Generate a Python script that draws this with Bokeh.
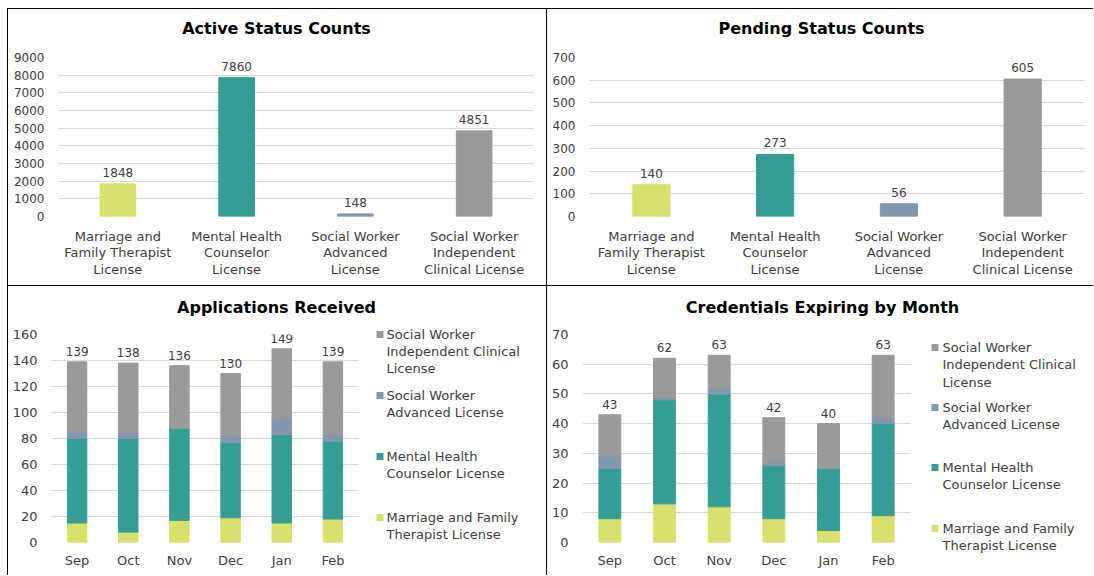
from bokeh.plotting import figure
from bokeh.layouts import column, row
from bokeh.models import (ColumnDataSource, FactorRange, Range1d, SingleIntervalTicker,
                          Spacer)
from bokeh.core.properties import value
from bokeh.embed import file_html
from bokeh.resources import INLINE

# ---------------- data ----------------
license_types = ["Marriage and\nFamily Therapist\nLicense",
                 "Mental Health\nCounselor\nLicense",
                 "Social Worker\nAdvanced\nLicense",
                 "Social Worker\nIndependent\nClinical License"]
active_counts = [1848, 7860, 148, 4851]
pending_counts = [140, 273, 56, 605]

months = ["Sep", "Oct", "Nov", "Dec", "Jan", "Feb"]
apps_mft = [15, 8, 17, 19, 15, 18]
apps_mhc = [65, 72, 71, 58, 68, 60]
apps_swa = [5, 5, 0, 5, 12, 5]
apps_swi = [54, 53, 48, 48, 54, 56]

exp_mft = [8, 13, 12, 8, 4, 9]
exp_mhc = [17, 35, 38, 18, 21, 31]
exp_swa = [4, 1, 2, 1, 0, 2]
exp_swi = [14, 13, 11, 15, 15, 21]

series_keys = ["mft", "mhc", "swa", "swi"]
series_colors = ["#d7e06b", "#359e94", "#8497b0", "#999999"]
# legend entries, top to bottom (reverse of stacking order)
legend_lines = [["Social Worker", "Independent Clinical", "License"],
                ["Social Worker", "Advanced License"],
                ["Mental Health", "Counselor License"],
                ["Marriage and Family", "Therapist License"]]

FONT = "DejaVu Sans"
TXT = "#404040"
GRID = "#d9d9d9"
TITLE_H = 36


def blank_fig(w, h):
    p = figure(width=w, height=h, x_range=Range1d(0, w), y_range=Range1d(h, 0),
               x_axis_type=None, y_axis_type=None, output_backend="svg",
               toolbar_location=None, min_border=0)
    if "frame_align" in p.properties():
        p.frame_align = False
    p.outline_line_color = None
    p.grid.visible = False
    p.background_fill_color = "white"
    p.border_fill_color = "white"
    return p


def title_fig(w, text, cx, cy):
    p = blank_fig(w, TITLE_H)
    p.text(x=[cx], y=[cy], text=[text], text_align="center", text_baseline="middle",
           text_font=value(FONT), text_font_size="16px", text_font_style="bold",
           text_color="#000000")
    return p


def legend_fig(w, h, mark_x, text_x, first_ys, pitch):
    p = blank_fig(w, h)
    colors = list(reversed(series_colors))
    mx, my, mc, tx, ty, tt = [], [], [], [], [], []
    for lines, y0, col in zip(legend_lines, first_ys, colors):
        mx.append(mark_x)
        my.append(y0)
        mc.append(col)
        for i, line in enumerate(lines):
            tx.append(text_x)
            ty.append(y0 + i * pitch)
            tt.append(line)
    p.rect(x=mx, y=my, width=7, height=7, fill_color=mc, line_color=None)
    p.text(x=tx, y=ty, text=tt, text_align="left", text_baseline="middle",
           text_font=value(FONT), text_font_size="13px", text_color=TXT)
    return p


def chart_fig(w, h, x_range, y_end, interval, left, right, top, bottom, tick_size):
    p = figure(width=w, height=h, x_range=x_range, y_range=Range1d(0, y_end),
               output_backend="svg", toolbar_location=None, title=None,
               min_border_left=left, min_border_right=right,
               min_border_top=top, min_border_bottom=bottom)
    if "frame_align" in p.properties():
        p.frame_align = False
    p.outline_line_color = None
    p.background_fill_color = "white"
    p.border_fill_color = "white"
    p.xgrid.grid_line_color = None
    p.ygrid.grid_line_color = GRID
    p.yaxis.ticker = SingleIntervalTicker(interval=interval, num_minor_ticks=0)
    for ax in (p.xaxis, p.yaxis):
        ax.axis_line_color = None
        ax.major_tick_line_color = None
        ax.minor_tick_line_color = None
        ax.major_label_text_font = FONT
        ax.major_label_text_color = TXT
    p.yaxis.major_label_text_font_size = tick_size
    p.yaxis.major_label_standoff = 8
    return p


def single_panel(vals, width, y_end, interval, title, title_cx, left, right):
    p = chart_fig(width, 276 - TITLE_H, FactorRange(*license_types), y_end, interval,
                  left, right, 12, 69, "12px")
    src = ColumnDataSource(dict(cat=license_types, val=vals, color=series_colors,
                                lab=[str(v) for v in vals]))
    p.vbar(x="cat", top="val", width=0.3, color="color", source=src)
    p.text(x="cat", y="val", text="lab", source=src, text_align="center",
           text_baseline="bottom", y_offset=-7, text_font=value(FONT),
           text_font_size="12px", text_color=TXT)
    p.xaxis.major_label_text_font_size = "13px"
    p.xaxis.major_label_text_line_height = 1.12
    p.xaxis.major_label_standoff = 6
    return column(title_fig(width, title, title_cx, 19), p)


def stacked_panel(data, width, chart_w, y_end, interval, title, title_cx, left, right,
                  bar_w, mark_x, text_x, first_ys, pitch):
    h = 289 - TITLE_H
    p = chart_fig(chart_w, h, FactorRange(*months), y_end, interval,
                  left, right, 12, 33, "13px")
    d = dict(month=months)
    for k, arr in zip(series_keys, data):
        d[k] = arr
    totals = [sum(t) for t in zip(*data)]
    d["total"] = totals
    d["lab"] = [str(t) for t in totals]
    src = ColumnDataSource(d)
    p.vbar_stack(series_keys, x="month", width=bar_w, color=series_colors, source=src)
    p.text(x="month", y="total", text="lab", source=src, text_align="center",
           text_baseline="bottom", y_offset=-6, text_font=value(FONT),
           text_font_size="12px", text_color=TXT)
    p.xaxis.major_label_text_font_size = "13px"
    p.xaxis.major_label_standoff = 4
    lg = legend_fig(width - chart_w, h, mark_x, text_x, first_ys, pitch)
    return column(title_fig(width, title, title_cx, 21), row(p, lg))


panel1 = single_panel(active_counts, 538, 9000, 1000, "Active Status Counts", 268, 50, 13)
panel2 = single_panel(pending_counts, 546, 700, 100, "Pending Status Counts", 274, 42, 9)

# legend rows are given in the legend figure's own pixel space (origin top-left)
panel3 = stacked_panel([apps_mft, apps_mhc, apps_swa, apps_swi], 538, 360, 160, 20,
                       "Applications Received", 268, 43, 10, 0.38,
                       11.5, 18, [12, 73, 134, 195], 17)
panel4 = stacked_panel([exp_mft, exp_mhc, exp_swa, exp_swi], 546, 373, 70, 10,
                       "Credentials Expiring by Month", 275, 35, 10, 0.4,
                       14.5, 22, [25, 85, 145, 206], 17.3)

BLACK = {"background-color": "black"}
layout = column(
    Spacer(width=1093, height=8),
    row(Spacer(width=7, height=1), Spacer(width=1086, height=1, styles=BLACK)),
    row(Spacer(width=7, height=276), Spacer(width=1, height=276, styles=BLACK), panel1,
        Spacer(width=1, height=276, styles=BLACK), panel2),
    row(Spacer(width=7, height=1), Spacer(width=1086, height=1, styles=BLACK)),
    row(Spacer(width=7, height=289), Spacer(width=1, height=289, styles=BLACK), panel3,
        Spacer(width=1, height=289, styles=BLACK), panel4),
)

open("out.html", "w").write(file_html(layout, INLINE))
